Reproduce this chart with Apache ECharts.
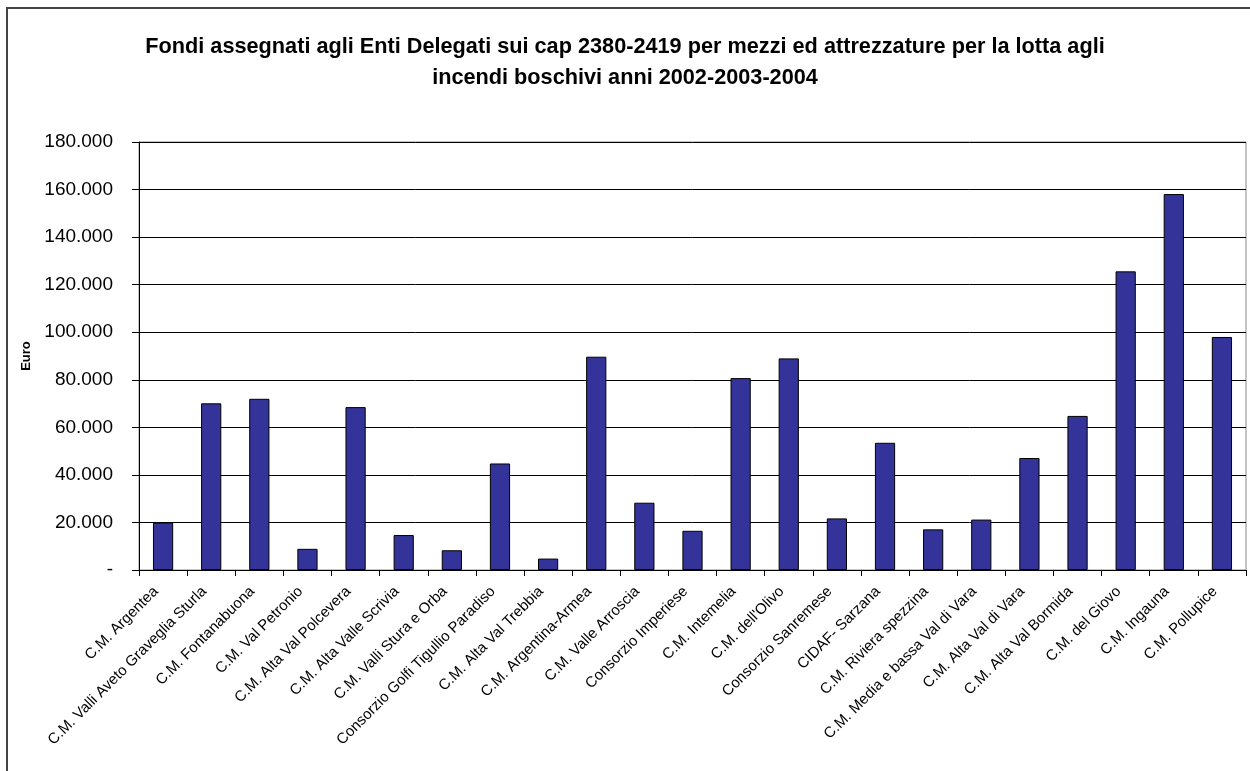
<!DOCTYPE html>
<html>
<head>
<meta charset="utf-8">
<script src="https://cdn.jsdelivr.net/npm/echarts@6/dist/echarts.min.js"></script>
<style>html,body{margin:0;padding:0;background:#fff;}#chart{width:1250px;height:771px;}</style>
</head>
<body>
<div id="chart"></div>
<script>
const titleText = 'Fondi assegnati agli Enti Delegati sui cap 2380-2419 per mezzi ed attrezzature per la lotta agli\nincendi boschivi anni 2002-2003-2004';
const yAxisName = 'Euro';
const categories = [
  'C.M. Argentea',
  'C.M. Valli Aveto Graveglia Sturla',
  'C.M. Fontanabuona',
  'C.M. Val Petronio',
  'C.M. Alta Val Polcevera',
  'C.M. Alta Valle Scrivia',
  'C.M. Valli Stura e Orba',
  'Consorzio Golfi Tigullio Paradiso',
  'C.M. Alta Val Trebbia',
  'C.M. Argentina-Armea',
  'C.M. Valle Arroscia',
  'Consorzio Imperiese',
  'C.M. Intemelia',
  "C.M. dell'Olivo",
  'Consorzio Sanremese',
  'CIDAF- Sarzana',
  'C.M. Riviera spezzina',
  'C.M. Media e bassa Val di Vara',
  'C.M. Alta Val di Vara',
  'C.M. Alta Val Bormida',
  'C.M. del Giovo',
  'C.M. Ingauna',
  'C.M. Pollupice'
];
const values = [
  19900, 70100, 72000, 8900, 68500, 14700, 8300, 44800, 4800, 89700, 28300,
  16500, 80700, 89000, 21700, 53500, 17100, 21200, 47100, 64800, 125600, 158100, 98000
];
const yMin = 0, yMax = 180000, yInterval = 20000;

const font = "'Liberation Sans', Arial, sans-serif";
const chart = echarts.init(document.getElementById('chart'), null, {renderer: 'canvas'});
chart.setOption({
  animation: false,
  backgroundColor: '#fff',
  title: {
    text: titleText,
    left: 'center',
    top: 27,
    textStyle: {fontFamily: font, fontWeight: 'bold', fontSize: 21.7, color: '#000', lineHeight: 31}
  },
  graphic: [{
    type: 'rect',
    shape: {x: 7, y: 8, width: 1400, height: 1000},
    style: {fill: 'none', stroke: '#444', lineWidth: 2},
    silent: true
  }],
  grid: {
    left: 139, right: 4, top: 142, bottom: 201,
    show: true, borderColor: '#888', borderWidth: 1, backgroundColor: '#fff',
    containLabel: false
  },
  xAxis: {
    type: 'category',
    data: categories,
    boundaryGap: true,
    axisLine: {lineStyle: {color: '#000', width: 1}},
    axisTick: {show: true, alignWithLabel: false, length: 6, lineStyle: {color: '#000'}},
    axisLabel: {
      interval: 0, rotate: 45, margin: 12, padding: [0, 10, 0, 0],
      fontFamily: font, fontSize: 15, color: '#000'
    },
    splitLine: {show: false}
  },
  yAxis: {
    type: 'value',
    min: yMin, max: yMax, interval: yInterval,
    name: yAxisName,
    nameLocation: 'middle',
    nameRotate: 90,
    nameGap: 99,
    nameTextStyle: {fontFamily: font, fontWeight: 'bold', fontSize: 13, color: '#000'},
    axisLine: {show: true, lineStyle: {color: '#000', width: 1}},
    axisTick: {show: true, inside: false, length: 7, lineStyle: {color: '#000'}},
    axisLabel: {
      margin: 26, fontFamily: font, fontSize: 19, color: '#000',
      formatter: function (v) {
        if (v === 0) return '-';
        return String(v).replace(/\B(?=(\d{3})+(?!\d))/g, '.');
      }
    },
    splitLine: {show: true, lineStyle: {color: '#000', width: 1}}
  },
  series: [{
    type: 'bar',
    data: values,
    barCategoryGap: '58%',
    itemStyle: {color: '#333399', borderColor: '#000', borderWidth: 1}
  }]
});
</script>
</body>
</html>
